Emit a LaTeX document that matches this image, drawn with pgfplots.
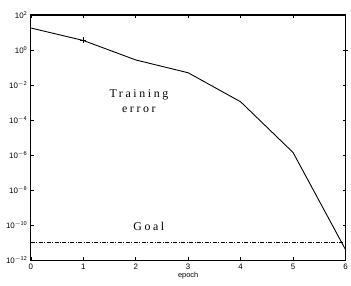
\documentclass[border=0pt]{standalone}
\usepackage{pgfplots}
\pgfplotsset{compat=1.18}
\usepackage{fontspec}
\setmainfont{Liberation Sans}
\newfontfamily\serifx[LetterSpace=22]{Liberation Serif}
\begin{document}
\begin{tikzpicture}
\begin{axis}[
  scale only axis,
  width=317bp, height=247bp,
  xmin=0, xmax=6, ymode=log, ymin=1e-12, ymax=1e2,
  xtick={0,1,2,3,4,5,6},
  ytick={1e-12,1e-10,1e-8,1e-6,1e-4,1e-2,1e0,1e2},
  tick align=inside,
  major tick length=3bp,
  tick style={black, line width=0.6pt},
  axis line style={line width=1.1pt},
  ticklabel style={font=\fontsize{8}{9}\selectfont},
  xticklabel style={yshift=-0.5pt},
  /pgf/number format/assume math mode=true,
  log basis y=10,
  yticklabel={\pgfmathparse{int(round(\tick))}\fontsize{8}{9}\selectfont 10$^{\mathsf{\pgfmathresult}}$},
  xlabel={epoch},
  xlabel style={font=\fontsize{7.5}{9}\selectfont, yshift=4pt},
  clip=false,
]
\addplot[black, line width=0.9pt] coordinates {
 (0,18) (1,3.5) (2,0.27) (3,0.05) (4,1.1e-3) (5,1.4e-6) (6,4e-12)
};
\addplot[black, only marks, mark=+, mark size=3pt, line width=0.8pt] coordinates {(1,3.5) (6,0.9)};
\addplot[black, line width=1.1pt, dash pattern=on 4pt off 1.5pt on 1pt off 1.5pt] coordinates {(0,1e-11) (6,1e-11)};
\node[font=\serifx\fontsize{12}{15}\selectfont, align=center] at (axis cs:2.06,1.2e-3) {Training\\error};
\node[font=\serifx\fontsize{12}{15}\selectfont] at (axis cs:2.25,8e-11) {Goal};
\path (rel axis cs:-0.098,-0.105) rectangle (rel axis cs:1.0095,1.061);
\end{axis}
\end{tikzpicture}
\end{document}
